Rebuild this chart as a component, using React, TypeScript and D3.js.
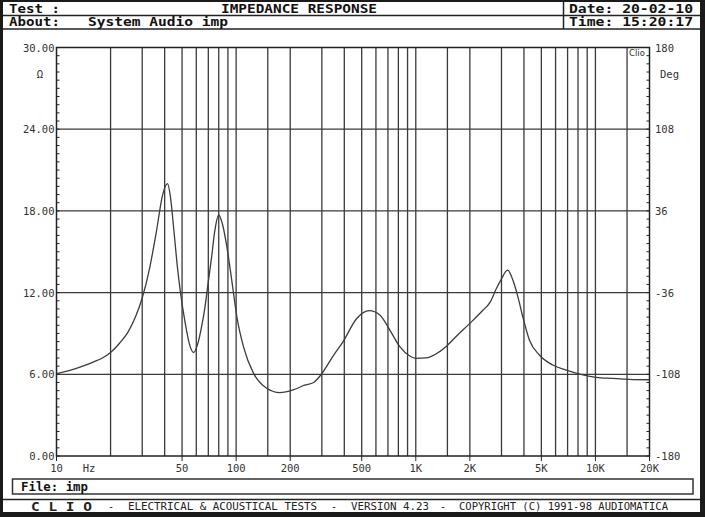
import React from "react";
import * as d3 from "d3";

const freqs = [10, 12, 14, 16, 18, 20, 22.5, 25, 27.5, 30, 33, 36, 39, 41.5, 43, 45, 47, 49, 52, 55, 58, 61, 64, 67, 70, 73, 76, 80, 84, 88.7, 95, 101, 110, 125, 148, 175, 208, 240, 270, 300, 345, 394, 469, 551, 631, 717, 815, 926, 1000, 1140, 1294, 1471, 1672, 2000, 2364, 2595, 2810, 2970, 3245, 3475, 3700, 3946, 4295, 4886, 5796, 6889, 8180, 10090, 12470, 15410, 20000];
const impedance = [6.05, 6.3, 6.6, 6.9, 7.2, 7.6, 8.3, 9.1, 10.2, 11.6, 13.8, 16.5, 19.2, 20.0, 19.1, 16.6, 14.0, 12.0, 9.8, 8.2, 7.6, 8.2, 9.4, 10.9, 12.8, 14.6, 16.5, 17.7, 17.0, 15.4, 12.7, 10.2, 8.0, 6.07, 4.97, 4.65, 4.85, 5.2, 5.4, 6.05, 7.3, 8.4, 10.1, 10.67, 10.35, 9.25, 8.03, 7.34, 7.17, 7.2, 7.49, 8.03, 8.76, 9.74, 10.7, 11.3, 12.3, 12.9, 13.65, 12.9, 11.7, 10.2, 8.5, 7.4, 6.68, 6.31, 6.02, 5.78, 5.7, 5.63, 5.6];

const gridFreqs = [20, 30, 40, 50, 60, 70, 80, 90, 100, 150, 200, 300, 400, 500, 600, 700, 800, 900, 1000, 1500, 2000, 3000, 4000, 5000, 6000, 7000, 8000, 9000, 10000, 15000];
const xTickFreqs = [10, 50, 100, 200, 500, 1000, 2000, 5000, 10000, 20000];
const xTickLabels = ["10", "50", "100", "200", "500", "1K", "2K", "5K", "10K", "20K"];
const leftTicks = [0, 6, 12, 18, 24, 30];
const leftTickLabels = ["0.00", "6.00", "12.00", "18.00", "24.00", "30.00"];
const rightTickLabels = ["-180", "-108", "-36", "36", "108", "180"];

const MONO = "'DejaVu Sans Mono', 'Liberation Mono', monospace";

export default function App() {
  const x = d3.scaleLog().domain([10, 20000]).range([56.5, 649.5]);
  const y = d3.scaleLinear().domain([0, 30]).range([456, 47.5]);
  const pts: [number, number][] = freqs.map((f, i) => [x(f), y(impedance[i])]);
  const line = d3.line<[number, number]>().x(d => d[0]).y(d => d[1]).curve(d3.curveMonotoneX);
  const minor = d3.range(0, 30.001, 0.6);
  const L = x.range()[0], R = x.range()[1], T = y(30), B = y(0);
  const gridCol = "#3a3a3a";
  return (
    <svg width={705} height={517} style={{ position: "absolute", left: 0, top: 0 }} xmlns="http://www.w3.org/2000/svg">
      <rect x={0} y={0} width={705} height={517} fill="#1a1a1a" />
      <rect x={3} y={2} width={697} height={510} fill="#ffffff" />
      {/* header */}
      <line x1={3} x2={700} y1={15.5} y2={15.5} stroke="#222" strokeWidth={1.5} />
      <line x1={3} x2={700} y1={29} y2={29} stroke="#222" strokeWidth={1.5} />
      <line x1={563.5} x2={563.5} y1={2} y2={29} stroke="#222" strokeWidth={1.5} />
      <g fontFamily={MONO} fontWeight="bold" fontSize={11.5} fill="#111">
        <text x={9} y={13} textLength={51} lengthAdjust="spacingAndGlyphs">Test :</text>
        <text x={221} y={13} textLength={156} lengthAdjust="spacingAndGlyphs">IMPEDANCE RESPONSE</text>
        <text x={569} y={13} textLength={124} lengthAdjust="spacingAndGlyphs">Date: 20-02-10</text>
        <text x={9} y={26} textLength={51} lengthAdjust="spacingAndGlyphs">About:</text>
        <text x={88} y={26} textLength={140} lengthAdjust="spacingAndGlyphs">System Audio imp</text>
        <text x={569} y={26} textLength={124} lengthAdjust="spacingAndGlyphs">Time: 15:20:17</text>
      </g>
      {/* grid */}
      {gridFreqs.map(f => (
        <line key={"v" + f} x1={x(f)} x2={x(f)} y1={T} y2={B} stroke={gridCol} strokeWidth={1.3} />
      ))}
      {leftTicks.slice(1, -1).map(v => (
        <line key={"h" + v} x1={L} x2={R} y1={y(v)} y2={y(v)} stroke={gridCol} strokeWidth={1.3} />
      ))}
      {minor.map((v, i) => (
        <g key={"m" + i}>
          <line x1={L} x2={L + 3} y1={y(v)} y2={y(v)} stroke="#222" strokeWidth={1} />
          <line x1={R - 3} x2={R} y1={y(v)} y2={y(v)} stroke="#222" strokeWidth={1} />
        </g>
      ))}
      {xTickFreqs.map(f => (
        <line key={"bt" + f} x1={x(f)} x2={x(f)} y1={B} y2={B + 5} stroke="#222" strokeWidth={1} />
      ))}
      <rect x={L} y={T} width={R - L} height={B - T} fill="none" stroke="#222" strokeWidth={1.5} />
      <text x={629} y={56} fontFamily="'DejaVu Sans', sans-serif" fontSize={8.5} fill="#333">Clio</text>
      {/* curve */}
      <path d={line(pts) || ""} fill="none" stroke="#3c3c3c" strokeWidth={1.3} />
      {/* axis labels */}
      <g fontFamily={MONO} fontSize={10.5} fill="#333">
        {leftTicks.map((v, i) => (
          <text key={"lt" + v} x={54.5} y={y(v) + 4} textAnchor="end">{leftTickLabels[i]}</text>
        ))}
        {leftTicks.map((v, i) => (
          <text key={"rt" + v} x={655} y={y(v) + 4}>{rightTickLabels[i]}</text>
        ))}
        {xTickFreqs.map((f, i) => (
          <text key={"xt" + f} x={x(f)} y={472} textAnchor="middle">{xTickLabels[i]}</text>
        ))}
        <text x={89} y={472} textAnchor="middle">Hz</text>
        <text x={40} y={78} textAnchor="middle">Ω</text>
        <text x={660} y={78}>Deg</text>
      </g>
      {/* footer */}
      <rect x={12.5} y={479} width={680.5} height={15} fill="none" stroke="#333" strokeWidth={1.5} />
      <text x={21} y={490.5} fontFamily={MONO} fontWeight="bold" fontSize={11.5} fill="#111" textLength={67} lengthAdjust="spacingAndGlyphs">File: imp</text>
      <line x1={3} x2={700} y1={499.5} y2={499.5} stroke="#222" strokeWidth={1.5} />
      <g fontFamily={MONO} fill="#222">
        <text x={31} y={510.5} fontWeight="bold" fontSize={11.5} textLength={61} lengthAdjust="spacingAndGlyphs">C L I O</text>
        <text x={108} y={510} fontSize={10} >-</text>
        <text x={128} y={510} fontSize={10} textLength={189} lengthAdjust="spacingAndGlyphs">ELECTRICAL &amp; ACOUSTICAL TESTS</text>
        <text x={331} y={510} fontSize={10}>-</text>
        <text x={351} y={510} fontSize={10} textLength={78} lengthAdjust="spacingAndGlyphs">VERSION 4.23</text>
        <text x={440} y={510} fontSize={10}>-</text>
        <text x={459} y={510} fontSize={10} textLength={209} lengthAdjust="spacingAndGlyphs">COPYRIGHT (C) 1991-98 AUDIOMATICA</text>
      </g>
    </svg>
  );
}
